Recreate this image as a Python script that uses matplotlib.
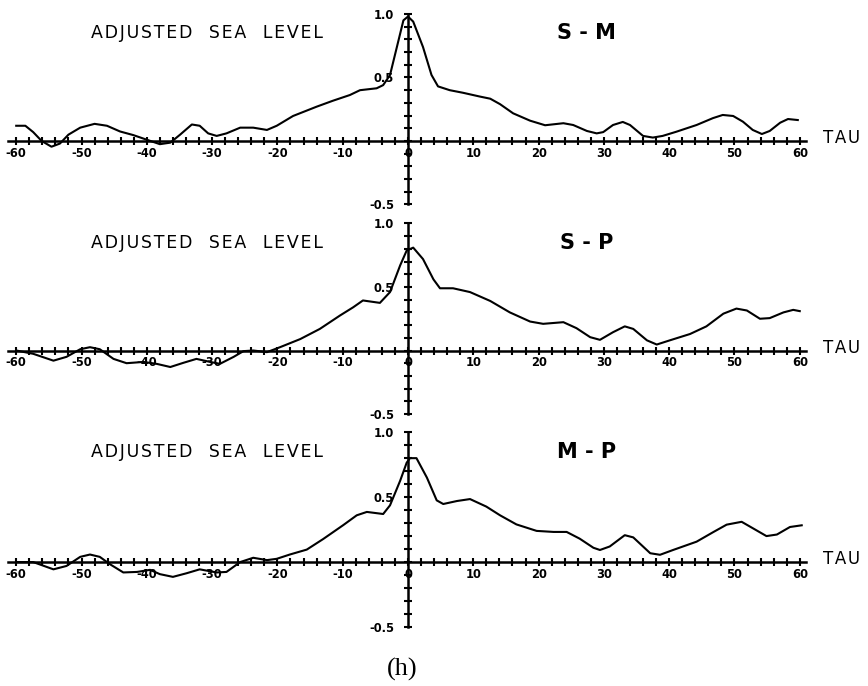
import matplotlib
matplotlib.use("Agg")
import matplotlib.pyplot as plt
import numpy as np

# Cross-correlation of adjusted sea level between station pairs
tau_sm = [-60, -58.6, -57.4, -56.1, -54.6, -53.3, -52, -50.2, -48, -46.1, -44.1, -42.1, -40, -38,
          -36.4, -34.9, -33.1, -31.9, -30.6, -29.3, -27.8, -25.7, -23.7, -21.6, -20.1, -17.6, -14,
          -11.5, -8.9, -7.35, -4.8, -3.8, -2.75, -1.7, -0.7, 0, 0.8, 2.3, 3.6, 4.6, 6.4, 8.4, 11,
          12.6, 14.1, 16.1, 18.7, 21, 23.8, 25.3, 27.4, 28.9, 29.9, 31.4, 32.9, 34, 36, 37.5, 39,
          41.1, 44.2, 46.7, 48.2, 49.8, 51.3, 52.8, 54.2, 55.4, 57, 58.2, 59.7]
corr_sm = [0.12, 0.12, 0.07, 0.0, -0.045, -0.02, 0.05, 0.105, 0.135, 0.12, 0.075, 0.047, 0.01,
           -0.025, -0.013, 0.05, 0.13, 0.12, 0.06, 0.04, 0.06, 0.105, 0.105, 0.087, 0.12, 0.197,
           0.27, 0.317, 0.362, 0.40, 0.415, 0.44, 0.52, 0.74, 0.95, 0.98, 0.94, 0.74, 0.52, 0.43,
           0.40, 0.38, 0.35, 0.333, 0.29, 0.218, 0.16, 0.124, 0.14, 0.126, 0.079, 0.06, 0.07,
           0.126, 0.15, 0.126, 0.04, 0.027, 0.04, 0.073, 0.126, 0.18, 0.205, 0.197, 0.152, 0.087,
           0.055, 0.079, 0.144, 0.173, 0.165]

tau_sp = [-60, -57.4, -54.3, -52.3, -50.2, -48.7, -47.2, -45.1, -43.1, -40.5, -38.5, -36.4, -34.4,
          -32.4, -30.3, -28.8, -26.7, -25.2, -23.7, -21.6, -19.6, -16.5, -13.5, -10.4, -8.4, -6.9,
          -4.3, -2.75, -1.2, -0.2, 0.8, 2.3, 3.9, 4.9, 6.9, 9.5, 12.6, 15.6, 18.7, 20.7, 23.8,
          25.8, 27.9, 29.4, 31.4, 33.2, 34.5, 36.6, 38.1, 40.1, 43.2, 45.7, 48.3, 50.3, 51.9,
          53.9, 55.4, 57.5, 59, 60]
corr_sp = [0.0, -0.026, -0.08, -0.05, 0.01, 0.026, 0.01, -0.066, -0.1, -0.09, -0.105, -0.13,
           -0.097, -0.066, -0.09, -0.105, -0.05, -0.005, 0.0, -0.013, 0.026, 0.09, 0.17, 0.276,
           0.34, 0.394, 0.375, 0.46, 0.67, 0.787, 0.81, 0.72, 0.56, 0.49, 0.49, 0.46, 0.39, 0.30,
           0.228, 0.21, 0.223, 0.176, 0.105, 0.084, 0.144, 0.19, 0.17, 0.08, 0.047, 0.08, 0.13,
           0.19, 0.29, 0.33, 0.315, 0.25, 0.255, 0.30, 0.32, 0.31]

tau_mp = [-60, -57.4, -54.3, -52.3, -50.2, -48.7, -47.2, -45.6, -43.6, -41.5, -39.5, -38, -36,
          -33.9, -31.9, -29.3, -27.8, -25.7, -23.7, -21.6, -20.1, -18.1, -15.5, -13, -9.9, -7.85,
          -6.3, -3.8, -2.75, -1.2, -0.2, 0.3, 1.3, 2.9, 4.4, 5.4, 7.5, 9.5, 12, 14.1, 16.6, 19.7,
          22.3, 24.3, 26.3, 28.4, 29.4, 30.9, 33.2, 34.5, 37.1, 38.6, 40.6, 44.2, 46.8, 48.8,
          51.1, 52.9, 54.9, 56.5, 58.5, 60.3]
corr_mp = [0.0, 0.0, -0.056, -0.03, 0.04, 0.058, 0.04, -0.018, -0.08, -0.076, -0.06, -0.093,
           -0.114, -0.086, -0.056, -0.08, -0.076, 0.0, 0.033, 0.015, 0.025, 0.058, 0.096, 0.177,
           0.285, 0.36, 0.386, 0.37, 0.437, 0.626, 0.765, 0.80, 0.80, 0.65, 0.475, 0.447, 0.47,
           0.485, 0.427, 0.36, 0.29, 0.24, 0.232, 0.232, 0.18, 0.11, 0.093, 0.12, 0.207, 0.19,
           0.068, 0.056, 0.093, 0.157, 0.232, 0.288, 0.31, 0.258, 0.2, 0.212, 0.27, 0.283]

pair_labels = ["S - M", "S - P", "M - P"]
panel_title = "ADJUSTED SEA LEVEL"
x_tick_labels = [-60, -50, -40, -30, -20, -10, 0, 10, 20, 30, 40, 50, 60]
y_tick_labels = [-0.5, 0.5, 1.0]
caption = "(h)"


def spaced(text):
    """Plotter-style lettering: hair spaces between letters, wide word gaps."""
    words = text.split(" ")
    return "   ".join("\u200a".join(w) for w in words)


series = [(tau_sm, corr_sm), (tau_sp, corr_sp), (tau_mp, corr_mp)]
panel_boxes = [(0.0089, 0.7019, 0.92, 0.2777),
               (0.0089, 0.3965, 0.92, 0.2777),
               (0.0089, 0.0860, 0.92, 0.2840)]

fig = plt.figure(figsize=(8.68, 6.86), dpi=100)
fig.patch.set_facecolor("white")

for (tau, corr), label, box in zip(series, pair_labels, panel_boxes):
    ax = fig.add_axes(box)
    ax.set_facecolor("none")
    ax.plot(tau, corr, color="black", lw=1.5, solid_joinstyle="round")
    ax.set_xlim(-61.3, 61.0)
    ax.set_ylim(-0.5, 1.0)

    for side in ("top", "right"):
        ax.spines[side].set_visible(False)
    ax.spines["left"].set_position(("data", 0))
    ax.spines["bottom"].set_position(("data", 0))
    ax.spines["left"].set_linewidth(1.8)
    ax.spines["bottom"].set_linewidth(1.8)

    xt = np.arange(-60, 61, 2)
    ax.set_xticks(xt)
    ax.set_xticklabels([str(v) if v in x_tick_labels else "" for v in xt])
    yt = np.round(np.arange(-0.5, 1.0001, 0.1), 1)
    ax.set_yticks(yt)
    ax.set_yticklabels([f"{v:.1f}" if v in y_tick_labels else "" for v in yt])
    ax.tick_params(axis="both", direction="inout", length=6, width=1.5, labelsize=8.3)
    ax.tick_params(axis="x", pad=1)
    ax.tick_params(axis="y", pad=7)
    for t in ax.get_xticklabels() + ax.get_yticklabels():
        t.set_fontweight("bold")

    ax.text(-48.5, 0.85, spaced(panel_title), fontsize=12.5, ha="left", va="center")
    ax.text(27.4, 0.85, label, fontsize=15, fontweight="bold", ha="center", va="center")
    ax.text(63.5, 0.02, spaced("TAU"), fontsize=12, ha="left", va="center", clip_on=False)

fig.text(0.463, 0.024, caption, fontsize=19, family="Liberation Serif",
         ha="center", va="center")

fig.savefig("out.png", dpi=100, facecolor="white")
